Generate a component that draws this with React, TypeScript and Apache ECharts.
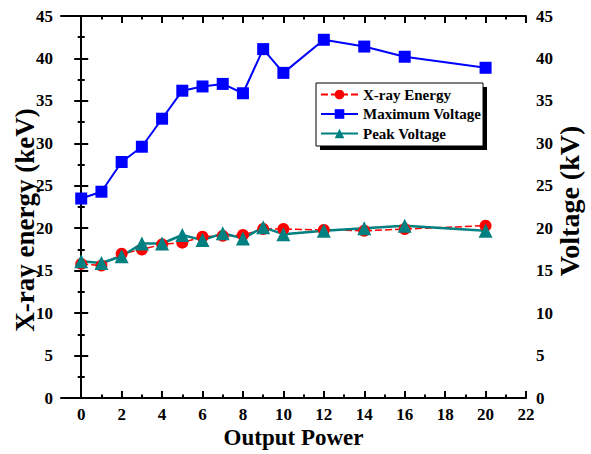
import React, { useEffect, useRef } from "react";
import * as echarts from "echarts";

const outputPower = [0, 1, 2, 3, 4, 5, 6, 7, 8, 9, 10, 12, 14, 16, 20];
const xrayEnergy = [15.8, 15.6, 17.0, 17.5, 18.1, 18.3, 19.0, 19.1, 19.2, 19.9, 19.9, 19.8, 19.7, 19.9, 20.3];
const maxVoltage = [23.5, 24.3, 27.8, 29.6, 32.9, 36.2, 36.7, 37.0, 35.9, 41.1, 38.3, 42.2, 41.4, 40.2, 38.9];
const peakVoltage = [16.1, 15.9, 16.7, 18.2, 18.2, 19.2, 18.6, 19.4, 18.8, 20.1, 19.3, 19.7, 20.0, 20.3, 19.7];
const xMajorTicks = [0, 2, 4, 6, 8, 10, 12, 14, 16, 18, 20, 22];
const xMinorTicks = [1, 3, 5, 7, 9, 11, 13, 15, 17, 19, 21];

const FONT = "Liberation Serif";

const pairs = (ys: number[]) => outputPower.map((x, i) => [x, ys[i]]);

export default function App() {
  const ref = useRef<HTMLDivElement>(null);
  useEffect(() => {
    if (!ref.current) return;
    const chart = echarts.init(ref.current, undefined, { renderer: "svg" });
    const axisLine = { show: true, lineStyle: { color: "#000", width: 2 } };
    const labelStyle = { fontFamily: FONT, fontWeight: "bold", fontSize: 17, color: "#000" };
    const nameStyle = { fontFamily: FONT, fontWeight: "bold", color: "#000" };
    const xBase = { type: "value", min: -1, max: 22, gridIndex: 0, splitLine: { show: false } };
    const yBase = {
      type: "value",
      min: 0,
      max: 45,
      interval: 5,
      splitLine: { show: false },
      axisLine,
      axisTick: { show: true, inside: true, length: 7, lineStyle: { color: "#000", width: 2 } },
      minorTick: { show: true, splitNumber: 2, length: 3.5, lineStyle: { color: "#000", width: 2 } },
      minorSplitLine: { show: false },
      axisLabel: { ...labelStyle },
    };
    chart.setOption({
      animation: false,
      backgroundColor: "#fff",
      grid: { left: 61, right: 61, top: 16, bottom: 52, containLabel: false },
      xAxis: [
        {
          ...xBase,
          position: "bottom",
          axisLine,
          axisTick: { show: true, inside: true, length: 7, customValues: xMajorTicks, lineStyle: { color: "#000", width: 2 } },
          axisLabel: { ...labelStyle, margin: 8, customValues: xMajorTicks },
          name: "Output Power",
          nameLocation: "middle",
          nameGap: 28,
          nameMoveOverlap: false,
          nameTextStyle: { ...nameStyle, fontSize: 23 },
        },
        {
          ...xBase,
          position: "bottom",
          axisLine: { show: false },
          axisTick: { show: true, inside: true, length: 3.5, customValues: xMinorTicks, lineStyle: { color: "#000", width: 2 } },
          axisLabel: { show: false },
        },
        {
          ...xBase,
          position: "top",
          axisLine,
          axisTick: { show: true, inside: true, length: 7, customValues: xMajorTicks, lineStyle: { color: "#000", width: 2 } },
          axisLabel: { show: false },
        },
        {
          ...xBase,
          position: "top",
          axisLine: { show: false },
          axisTick: { show: true, inside: true, length: 3.5, customValues: xMinorTicks, lineStyle: { color: "#000", width: 2 } },
          axisLabel: { show: false },
        },
      ],
      yAxis: [
        {
          ...yBase,
          position: "left",
          axisLabel: { ...labelStyle, margin: 8 },
          name: "X-ray energy (keV)",
          nameLocation: "middle",
          nameRotate: 90,
          nameGap: 23,
          nameMoveOverlap: false,
          nameTextStyle: { ...nameStyle, fontSize: 27, padding: [0, 26, 0, 0] },
        },
        {
          ...yBase,
          position: "right",
          axisLabel: { ...labelStyle, margin: 10 },
          name: "Voltage (kV)",
          nameLocation: "middle",
          nameRotate: 90,
          nameGap: 29,
          nameMoveOverlap: false,
          nameTextStyle: { ...nameStyle, fontSize: 28, padding: [0, 0, 0, 12] },
        },
      ],
      legend: {
        orient: "vertical",
        left: 320,
        top: 87,
        padding: 0,
        itemWidth: 37,
        itemHeight: 12,
        itemGap: 4.5,
        z: 10,
        textStyle: { fontFamily: FONT, fontWeight: "bold", fontSize: 15, color: "#000" },
        data: ["X-ray Energy", "Maximum Voltage", "Peak Voltage"],
      },
      graphic: [
        { type: "rect", z: 8, shape: { x: 320, y: 87, width: 167, height: 63 }, style: { fill: "#000" } },
        { type: "rect", z: 9, shape: { x: 316, y: 83, width: 167, height: 63 }, style: { fill: "#fff", stroke: "#000", lineWidth: 1 } },
      ],
      series: [
        {
          name: "X-ray Energy",
          type: "line",
          xAxisIndex: 0,
          yAxisIndex: 0,
          data: pairs(xrayEnergy),
          symbol: "circle",
          symbolSize: 12,
          itemStyle: { color: "#ff0000" },
          lineStyle: { color: "#ff0000", width: 1.5, type: [7, 3] },
        },
        {
          name: "Maximum Voltage",
          type: "line",
          xAxisIndex: 0,
          yAxisIndex: 1,
          data: pairs(maxVoltage),
          symbol: "rect",
          symbolSize: 12,
          itemStyle: { color: "#0000ff" },
          lineStyle: { color: "#0000ff", width: 2 },
        },
        {
          name: "Peak Voltage",
          type: "line",
          xAxisIndex: 0,
          yAxisIndex: 1,
          data: pairs(peakVoltage),
          symbol: "triangle",
          symbolSize: 14,
          itemStyle: { color: "#008080" },
          lineStyle: { color: "#008080", width: 2.5 },
        },
      ],
    });
    return () => chart.dispose();
  }, []);
  return <div ref={ref} style={{ position: "fixed", left: 0, top: 0, width: 591, height: 454 }} />;
}
